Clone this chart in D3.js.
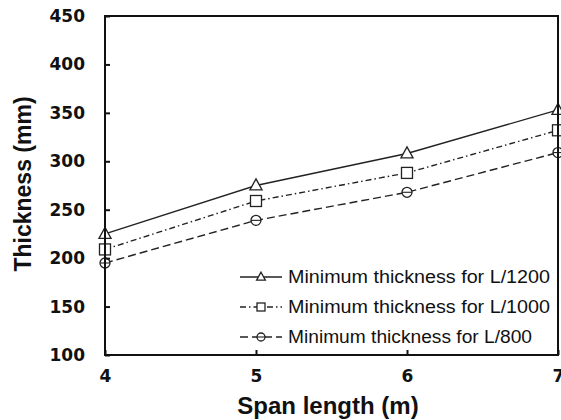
<!DOCTYPE html>
<html>
<head>
<meta charset="utf-8">
<script src="https://cdn.jsdelivr.net/npm/d3@7"></script>
<style>
  html, body { margin: 0; padding: 0; background: #fff; }
  svg { display: block; }
</style>
</head>
<body>
<svg id="chart" width="561" height="420"></svg>
<script>
// Span lengths (m) on the x axis
const spans = [4, 5, 6, 7];
// Minimum slab thickness (mm) for each deflection limit
const thkL1200 = [225, 275, 308, 353];
const thkL1000 = [209, 259, 288, 332];
const thkL800 = [195, 239, 268, 309];
const yTicks = [100, 150, 200, 250, 300, 350, 400, 450];
const xTicks = [4, 5, 6, 7];
const seriesNames = [
  "Minimum thickness for L/1200",
  "Minimum thickness for L/1000",
  "Minimum thickness for L/800"
];

const series = [
  { name: seriesNames[0], values: thkL1200, dash: null, marker: "triangle" },
  { name: seriesNames[1], values: thkL1000, dash: "6,3,1.5,3", marker: "square" },
  { name: seriesNames[2], values: thkL800, dash: "8,4", marker: "circle" }
];

const svg = d3.select("#chart");
const m = { left: 105, top: 16, right: 558, bottom: 355 };

const x = d3.scaleLinear().domain([4, 7]).range([m.left, m.right]);
const y = d3.scaleLinear().domain([100, 450]).range([m.bottom, m.top]);

const tickFont = "'DejaVu Sans', sans-serif";
const textFont = "'Liberation Sans', Arial, sans-serif";

// Lines
const line = d3.line().x((d, i) => x(spans[i])).y(d => y(d));
series.forEach(s => {
  svg.append("path")
    .datum(s.values)
    .attr("d", line)
    .attr("fill", "none")
    .attr("stroke", "#222")
    .attr("stroke-width", 1.4)
    .attr("stroke-dasharray", s.dash);
});

// Marker drawing
function drawMarker(g, type, cx, cy, size) {
  if (type === "triangle") {
    const h = size, w = size * 1.1;
    g.append("path")
      .attr("d", `M${cx},${cy - h * 0.6} L${cx + w / 2},${cy + h * 0.4} L${cx - w / 2},${cy + h * 0.4} Z`)
      .attr("fill", "#fff").attr("stroke", "#222").attr("stroke-width", 1.3);
  } else if (type === "square") {
    g.append("rect")
      .attr("x", cx - size / 2).attr("y", cy - size / 2)
      .attr("width", size).attr("height", size)
      .attr("fill", "#fff").attr("stroke", "#222").attr("stroke-width", 1.3);
  } else {
    g.append("circle")
      .attr("cx", cx).attr("cy", cy).attr("r", size / 2)
      .attr("fill", "#fff").attr("stroke", "#222").attr("stroke-width", 1.3);
    g.append("line")
      .attr("x1", cx - size / 2).attr("x2", cx + size / 2)
      .attr("y1", cy).attr("y2", cy)
      .attr("stroke", "#222").attr("stroke-width", 1.1);
  }
}

const markers = svg.append("g");
series.forEach(s => {
  s.values.forEach((v, i) => {
    drawMarker(markers, s.marker, x(spans[i]), y(v), s.marker === "circle" ? 10 : 11);
  });
});

// Frame
svg.append("rect")
  .attr("x", m.left).attr("y", m.top)
  .attr("width", m.right - m.left).attr("height", m.bottom - m.top)
  .attr("fill", "none").attr("stroke", "#111").attr("stroke-width", 2);

// Y axis (ticks pointing inward)
const yAxis = d3.axisLeft(y).tickValues(yTicks).tickSize(-5).tickPadding(20).tickSizeOuter(0);
const gy = svg.append("g").attr("transform", `translate(${m.left},0)`).call(yAxis);
gy.select(".domain").remove();
gy.selectAll(".tick line").attr("stroke", "#111").attr("stroke-width", 2);
gy.selectAll(".tick text")
  .attr("font-family", tickFont).attr("font-size", 17).attr("font-weight", "bold")
  .attr("fill", "#111");

// X axis (ticks pointing inward)
const xAxis = d3.axisBottom(x).tickValues(xTicks).tickFormat(d3.format("d")).tickSize(-5).tickPadding(15).tickSizeOuter(0);
const gx = svg.append("g").attr("transform", `translate(0,${m.bottom})`).call(xAxis);
gx.select(".domain").remove();
gx.selectAll(".tick line").attr("stroke", "#111").attr("stroke-width", 2);
gx.selectAll(".tick text")
  .attr("font-family", tickFont).attr("font-size", 17).attr("font-weight", "bold")
  .attr("fill", "#111");

// Axis titles
svg.append("text")
  .attr("x", 328).attr("y", 414)
  .attr("text-anchor", "middle")
  .attr("font-family", textFont).attr("font-size", 24).attr("font-weight", "bold")
  .attr("fill", "#111")
  .text("Span length (m)");

svg.append("text")
  .attr("transform", "translate(31,184) rotate(-90)")
  .attr("text-anchor", "middle")
  .attr("font-family", textFont).attr("font-size", 23).attr("font-weight", "bold")
  .attr("fill", "#111")
  .text("Thickness (mm)");

// Legend
const legend = svg.append("g");
const legY = [277, 307, 337];
const legLen = [262, 262, 244];
series.forEach((s, i) => {
  const ly = legY[i];
  legend.append("line")
    .attr("x1", 240).attr("x2", 282).attr("y1", ly).attr("y2", ly)
    .attr("stroke", "#222").attr("stroke-width", 1.3)
    .attr("stroke-dasharray", s.dash);
  drawMarker(legend, s.marker, 261, ly, 8);
  legend.append("text")
    .attr("x", 288).attr("y", ly)
    .attr("dy", "0.35em")
    .attr("font-family", textFont).attr("font-size", 18)
    .attr("textLength", legLen[i]).attr("lengthAdjust", "spacingAndGlyphs")
    .attr("fill", "#111")
    .text(s.name);
});
</script>
</body>
</html>
